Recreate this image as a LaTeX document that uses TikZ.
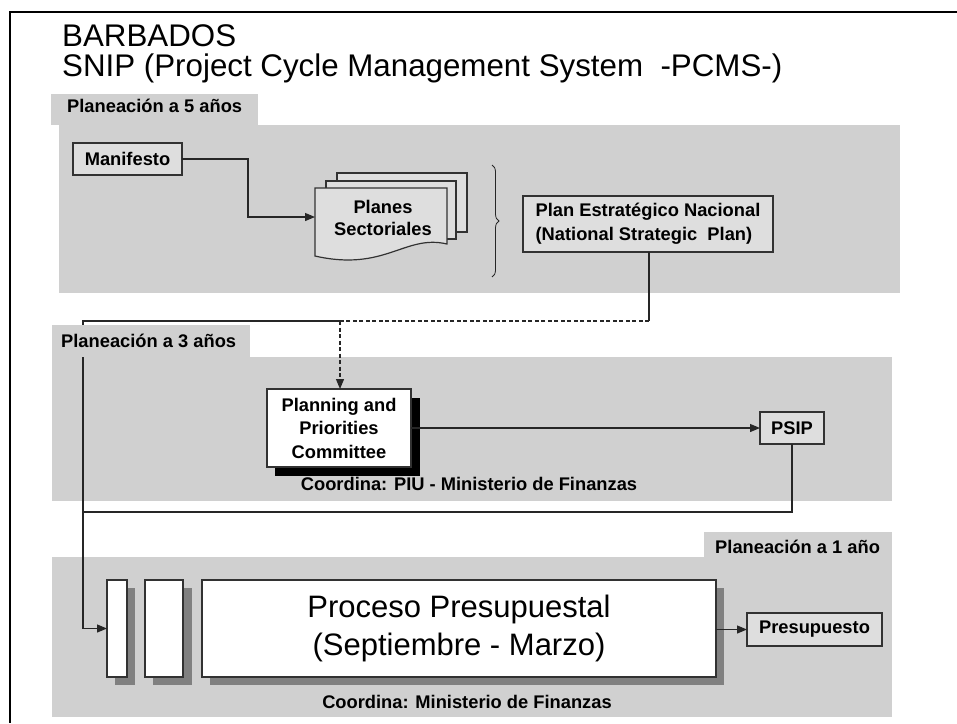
\documentclass[tikz,border=0pt]{standalone}
\usepackage{fontspec}
\setmainfont{Liberation Sans}
\usetikzlibrary{arrows.meta,decorations.pathreplacing}

\definecolor{bandgray}{RGB}{208,208,208}
\definecolor{boxgray}{RGB}{222,222,222}
\definecolor{edgegray}{RGB}{50,50,50}
\definecolor{shadowgray}{RGB}{128,128,128}

\tikzset{
  band/.style={fill=bandgray, draw=none},
  tablabel/.style={anchor=base west, inner sep=0pt, font=\fontsize{18.3}{22}\selectfont\bfseries},
  graybox/.style={draw=edgegray, line width=1.2pt, fill=boxgray, inner sep=0pt, outer sep=0pt,
    align=center, font=\fontsize{18.3}{24}\selectfont\bfseries},
  whitebox/.style={draw=edgegray, line width=1.2pt, fill=white, inner sep=0pt, outer sep=0pt,
    align=center},
  link/.style={draw=black!85, line width=1.2pt},
  tip/.style={-{Triangle[length=10pt,width=8pt]}},
  coordlabel/.style={anchor=base, inner sep=0pt, font=\fontsize{18.3}{22}\selectfont\bfseries},
  titletext/.style={anchor=base west, inner sep=0pt, font=\fontsize{31.3}{27}\selectfont},
}

\begin{document}
\begin{tikzpicture}[x=1pt,y=-1pt]
\useasboundingbox (0,0) rectangle (957,723);

% outer frame (top and left rules)
\draw[line width=2pt] (957,12) -- (10,12) -- (10,723);

% title, two lines set 27pt apart
\node[titletext] (title) at (62,46)
  {\begin{tabular}[t]{@{}l@{}}BARBADOS\\SNIP (Project Cycle Management System \ -PCMS-)\end{tabular}};

% bands
\fill[band] (59,125) rectangle (900,293);
\fill[band] (52,357) rectangle (892,501);
\fill[band] (52,557) rectangle (892,717);

% ---- 5-year planning ----
\node[graybox, minimum width=109pt, minimum height=32pt] (manif) at (127.5,159) {Manifesto};

% stacked sector plans
\draw[edgegray, line width=1.2pt, fill=boxgray] (337,173) rectangle (467,232);
\draw[edgegray, line width=1.2pt, fill=boxgray] (326,181) rectangle (456,239);
\draw[edgegray, line width=1.2pt, fill=boxgray]
  (315,188) -- (447,188) -- (447,244)
  .. controls (405,234) and (385,272) .. (315,256) -- cycle;
\coordinate (planesW) at (315,217);
\node[inner sep=0pt, align=center, font=\fontsize{18.3}{22}\selectfont\bfseries] (planes) at (383,218)
  {Planes\\Sectoriales};

\draw[black!85, line width=0.8pt, decorate, decoration={brace, amplitude=7pt}]
  (492,165) -- (492,277);

\node[graybox, minimum width=250pt, minimum height=56pt, align=left] (pen) at (648,224)
  {Plan Estratégico Nacional\\(National Strategic \ Plan)};

\draw[link, tip] (manif.east) -| (248,217) -- (planesW);

% ---- 3-year planning ----
\fill[black] (275,398) rectangle (420,476);
\node[whitebox, minimum width=144pt, minimum height=78pt, font=\fontsize{18.3}{23.5}\selectfont\bfseries]
  (ppc) at (339,428) {Planning and\\Priorities\\Committee};
\node[graybox, minimum width=64pt, minimum height=32pt] (psip) at (792,428) {PSIP};
\node[coordlabel] (coord2) at (469,490) {Coordina: PIU - Ministerio de Finanzas};

\draw[link, tip] (ppc.east) -- (psip.west);

% ---- 1-year planning ----
\fill[shadowgray] (115,588) rectangle (135,685);
\fill[shadowgray] (153,588) rectangle (192,685);
\fill[shadowgray] (210,588) rectangle (724,685);
\node[whitebox, minimum width=20pt, minimum height=97pt] (step1) at (117,628.5) {};
\node[whitebox, minimum width=38pt, minimum height=97pt] (step2) at (164,628.5) {};
\node[whitebox, minimum width=514pt, minimum height=97pt, font=\fontsize{31}{38}\selectfont]
  (proc) at (459,628.5) {Proceso Presupuestal\\(Septiembre - Marzo)};
\node[graybox, minimum width=135pt, minimum height=33pt] (presu) at (814.5,629.5) {Presupuesto};
\node[coordlabel] (coord3) at (467,708) {Coordina: Ministerio de Finanzas};

\draw[link, tip] (proc.east |- presu.west) -- (presu.west);

% ---- flows between levels ----
\coordinate (c1) at (649,321);
\coordinate (c2) at (340,321);
\coordinate (c3) at (83,321);
\coordinate (c4) at (83,628.5);
\coordinate (c5) at (792,512);
\coordinate (c6) at (83,512);

\draw[link] (pen.south -| c1) -- (c1);
\draw[link, dashed, dash pattern=on 4pt off 2.5pt] (c1) -- (c2);
\draw[link, dashed, dash pattern=on 4pt off 2.5pt, tip] (c2) -- (ppc.north -| c2);
\draw[link] (c2) -- (c3) -- (c4);
\draw[link, tip] (c4) -- (step1.west);
\draw[link] (psip.south) -- (c5) -- (c6);

% tabs (drawn over the flow lines)
\fill[band] (51,94) rectangle (258,125);
\node[tablabel] (tab5) at (67,112) {Planeación a 5 años};
\fill[band] (52,325) rectangle (250,357);
\node[tablabel] (tab3) at (61,347) {Planeación a 3 años};
\fill[band] (704,532) rectangle (892,557);
\node[tablabel] (tab1) at (715,553) {Planeación a 1 año};

\end{tikzpicture}
\end{document}
